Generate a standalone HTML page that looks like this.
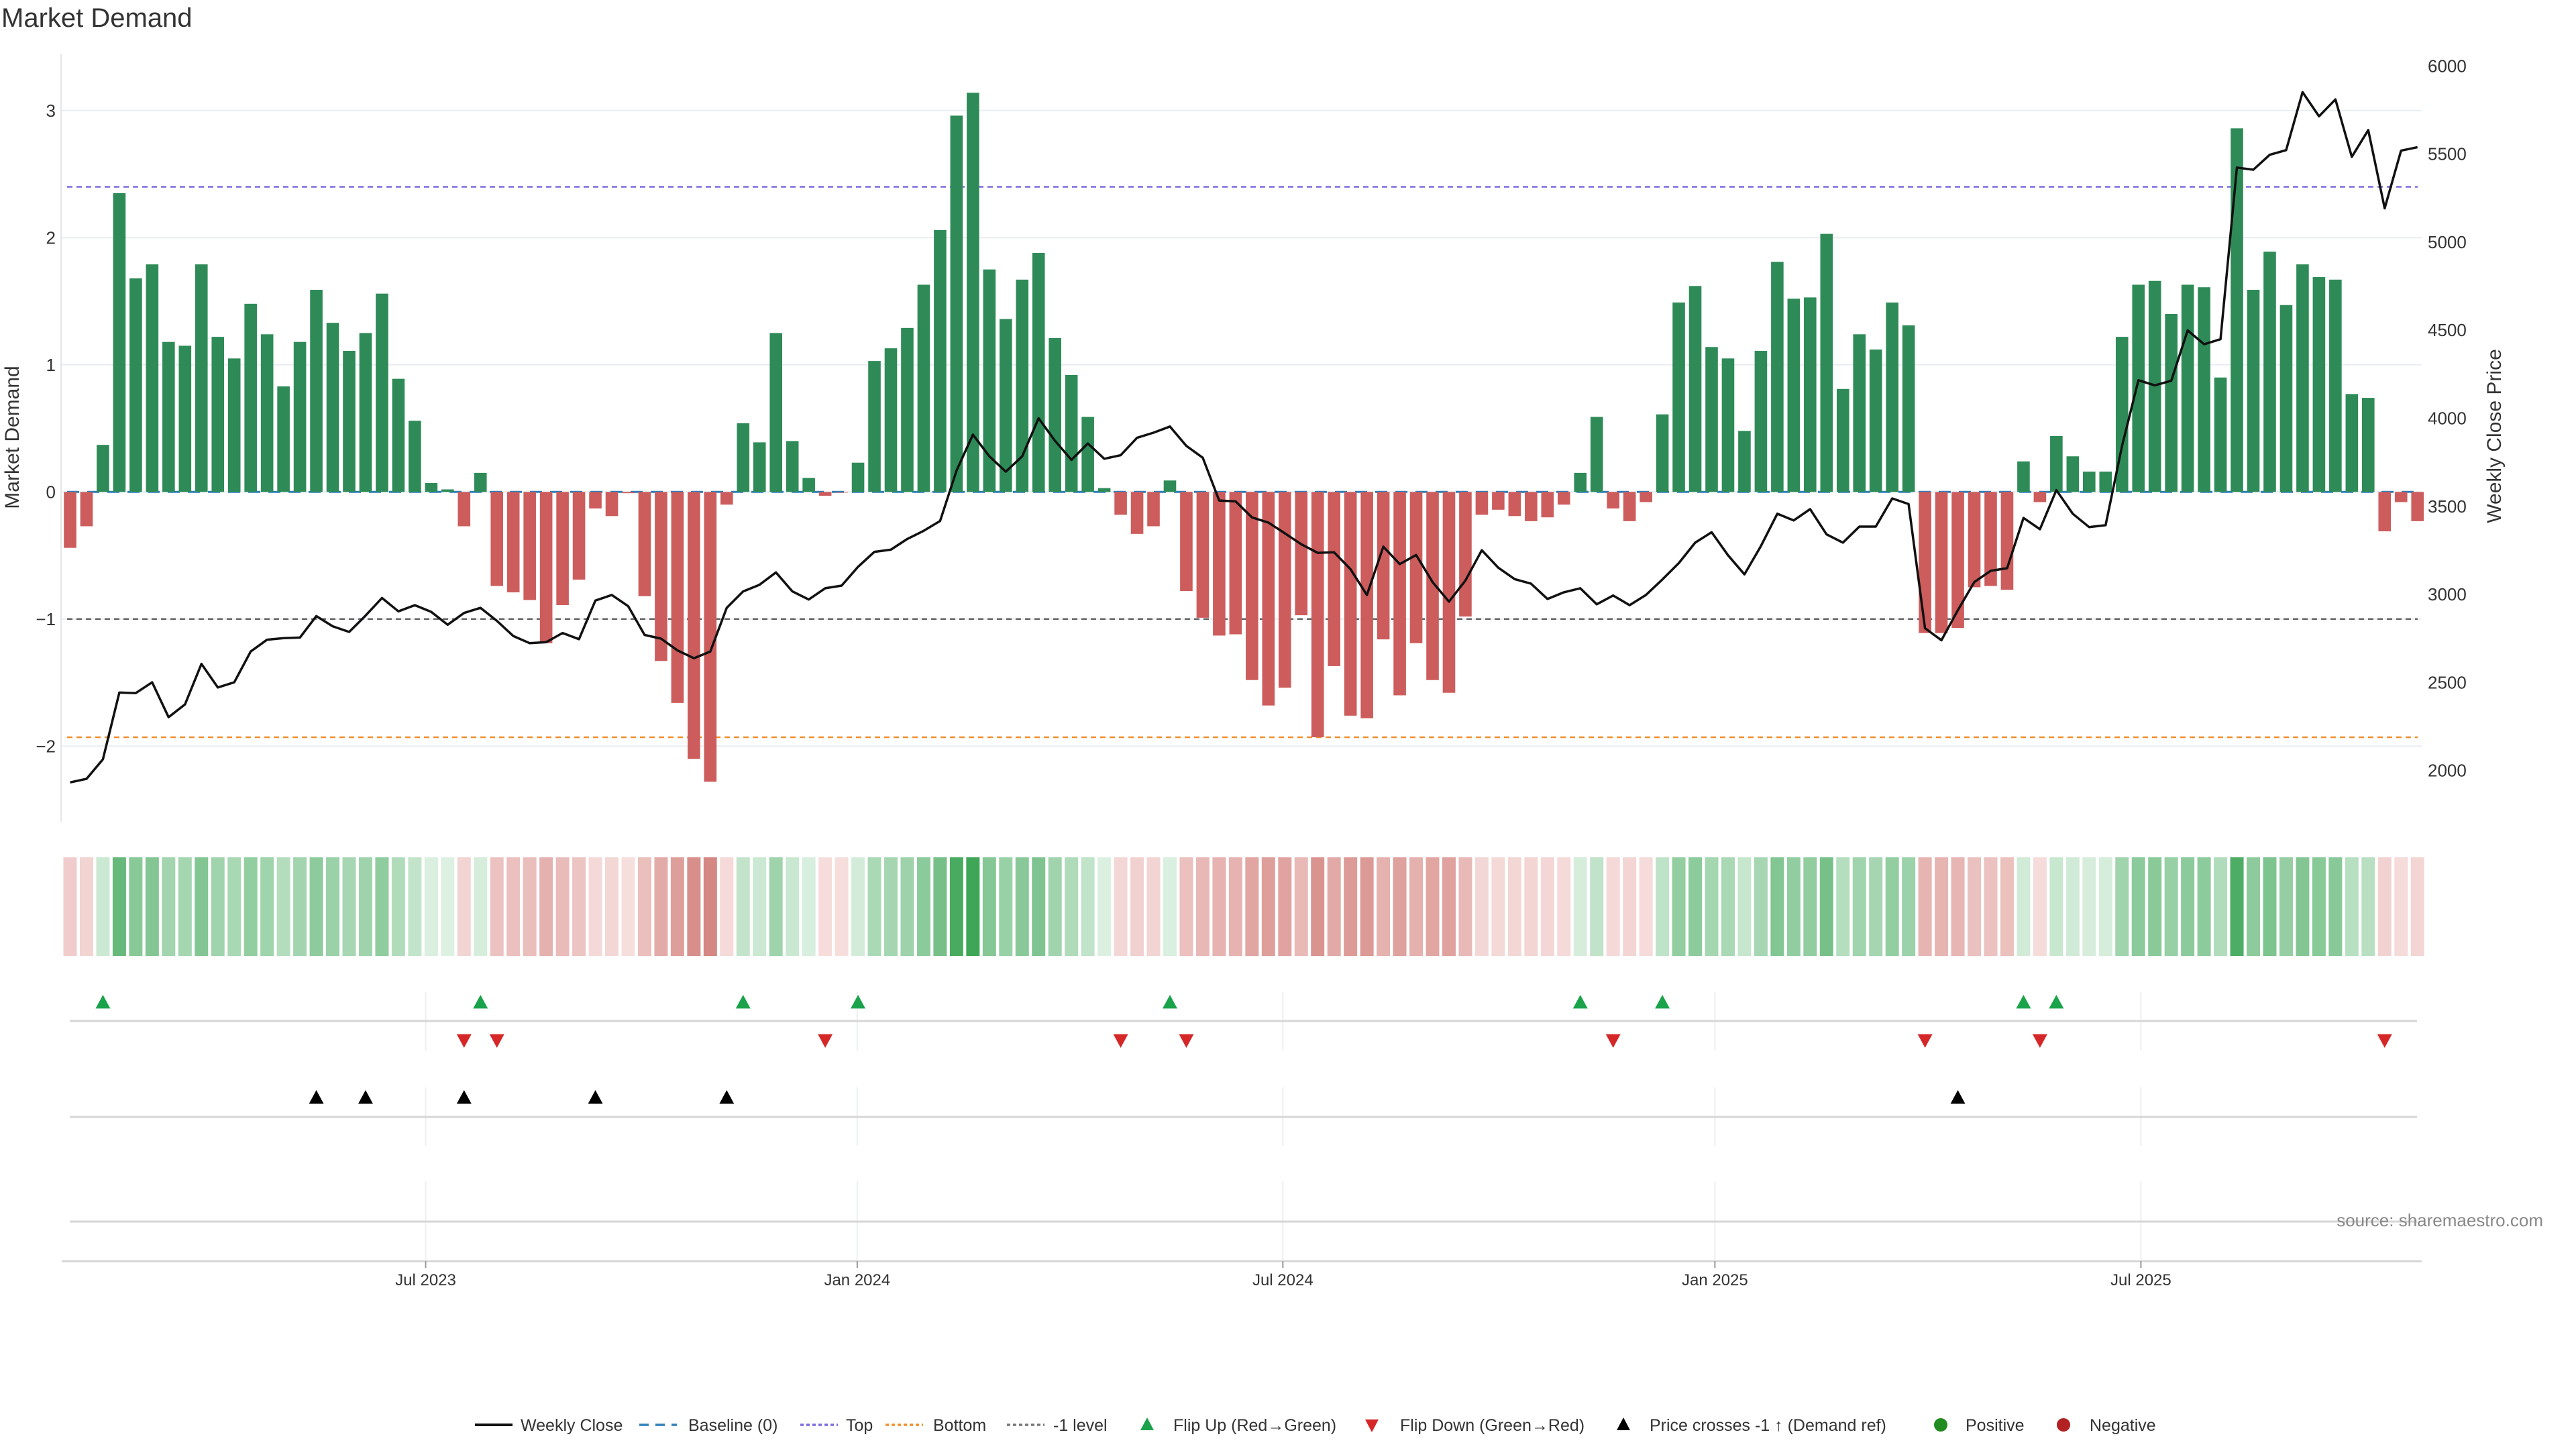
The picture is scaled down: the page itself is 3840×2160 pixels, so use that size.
<!DOCTYPE html>
<html><head><meta charset="utf-8"><title>Market Demand</title>
<style>
html,body{margin:0;padding:0;background:#fff;}
svg{display:block;font-family:"Liberation Sans","DejaVu Sans",sans-serif;}
</style></head>
<body>
<svg id="chart" xmlns="http://www.w3.org/2000/svg" width="3840" height="2160" viewBox="0 0 3840 2160">
<rect x="0" y="0" width="3840" height="2160" fill="#ffffff"/>
<text x="2" y="40" font-size="40" fill="#333">Market Demand</text>
<g id="grid"></g>
<g id="refs"></g>
<g id="bars"></g>
<g id="price"></g>
<g id="axes"></g>
<g id="heat"></g>
<g id="markers"></g>
<g id="xaxis"></g>
<text x="28" y="652" font-size="30" fill="#333" text-anchor="middle" transform="rotate(-90 28 652)">Market Demand</text>
<text x="3728" y="650" font-size="30" fill="#333" text-anchor="middle" transform="rotate(-90 3728 650)">Weekly Close Price</text>
<text x="3791" y="1828" font-size="26" fill="#888" text-anchor="end">source: sharemaestro.com</text>
<g id="legend"></g>
</svg>
<script>
const demand = [-0.44,-0.27,0.37,2.35,1.68,1.79,1.18,1.15,1.79,1.22,1.05,1.48,1.24,0.83,1.18,1.59,1.33,1.11,1.25,1.56,0.89,0.56,0.07,0.02,-0.27,0.15,-0.74,-0.79,-0.85,-1.19,-0.89,-0.69,-0.13,-0.19,-0.01,-0.82,-1.33,-1.66,-2.10,-2.28,-0.10,0.54,0.39,1.25,0.40,0.11,-0.03,-0.005,0.23,1.03,1.13,1.29,1.63,2.06,2.96,3.14,1.75,1.36,1.67,1.88,1.21,0.92,0.59,0.03,-0.18,-0.33,-0.27,0.09,-0.78,-0.99,-1.13,-1.12,-1.48,-1.68,-1.54,-0.97,-1.93,-1.37,-1.76,-1.78,-1.16,-1.60,-1.19,-1.48,-1.58,-0.98,-0.18,-0.14,-0.19,-0.23,-0.20,-0.10,0.15,0.59,-0.13,-0.23,-0.08,0.61,1.49,1.62,1.14,1.05,0.48,1.11,1.81,1.52,1.53,2.03,0.81,1.24,1.12,1.49,1.31,-1.11,-1.11,-1.07,-0.75,-0.74,-0.77,0.24,-0.08,0.44,0.28,0.16,0.16,1.22,1.63,1.66,1.40,1.63,1.61,0.90,2.86,1.59,1.89,1.47,1.79,1.69,1.67,0.77,0.74,-0.31,-0.08,-0.23];
const closes = [1933,1953,2064,2443,2440,2501,2303,2376,2606,2472,2501,2676,2743,2752,2755,2877,2819,2787,2880,2980,2904,2939,2901,2828,2895,2924,2850,2764,2723,2729,2781,2746,2965,2997,2933,2770,2749,2682,2638,2676,2924,3017,3055,3125,3017,2971,3035,3050,3157,3242,3254,3315,3361,3417,3703,3907,3784,3697,3784,4000,3872,3764,3857,3770,3790,3889,3918,3953,3843,3776,3533,3528,3437,3408,3347,3285,3236,3239,3143,2997,3271,3172,3224,3070,2959,3079,3251,3152,3087,3061,2974,3012,3035,2944,2994,2939,2997,3085,3178,3294,3353,3222,3114,3274,3458,3420,3484,3341,3294,3385,3385,3545,3513,2808,2740,2910,3070,3134,3149,3434,3370,3592,3458,3382,3393,3843,4216,4187,4213,4499,4420,4449,5423,5411,5496,5522,5851,5714,5810,5484,5636,5192,5519,5539];
const leftTicks = [-2,-1,0,1,2,3];
const rightTicks = [2000,2500,3000,3500,4000,4500,5000,5500,6000];
const xTickLabels = ["Jul 2023","Jan 2024","Jul 2024","Jan 2025","Jul 2025"];
const xTickIndex = [21.66,47.95,73.88,100.2,126.15];
const refLevels = [0,2.4,-1,-1.93];

const NS = "http://www.w3.org/2000/svg";
function el(tag, attrs, parent){const e=document.createElementNS(NS,tag);for(const k in attrs)e.setAttribute(k,attrs[k]);parent.appendChild(e);return e;}
const xi = i => 104.5 + i*24.47;
const yD = v => 733.3 - v*189.5;
const yP = p => 98.3 + (6000-p)*0.2626;
const X0 = 91, X1 = 3610;

const grid = document.getElementById('grid');
const axes = document.getElementById('axes');
leftTicks.forEach(t=>{
  const g = el('line',{x1:X0,x2:X1,y1:yD(t),y2:yD(t),stroke:'#e9edf3','stroke-width':2},grid);
  
  
  const tx = el('text',{x:83,y:yD(t)+9,'font-size':26,fill:'#333','text-anchor':'end'},axes);
  tx.textContent = t<0 ? '\u2212'+Math.abs(t) : String(t);
  
  
});
rightTicks.forEach(t=>{
  const tx = el('text',{x:3619,y:yP(t)+9,'font-size':26,fill:'#333'},axes);
  tx.textContent = String(t);
  
  
});
const ax = el('line',{x1:X0,x2:X0,y1:80,y2:1225,stroke:'#e3e6ea','stroke-width':2},axes);



const refs = document.getElementById('refs');
const refStyles = [
  {c:'#2f7fb8',d:'18 12',w:3,n:'baseline-line'},
  {c:'#7b6be0',d:'8 6',w:2.5,n:'top-line'},
  {c:'#666',d:'8 6',w:2.5,n:'minus-one-level-line'},
  {c:'#f28e2b',d:'8 6',w:2.5,n:'bottom-line'}];
const bars = document.getElementById('bars');
refLevels.forEach((v,k)=>{
  const s = refStyles[k];
  const l = el('line',{x1:100,x2:3604,y1:yD(v),y2:yD(v),stroke:s.c,'stroke-width':s.w,'stroke-dasharray':s.d},refs);
  
  
});

demand.forEach((v,i)=>{
  const y = v>=0 ? yD(v) : yD(0);
  const h = Math.abs(yD(v)-yD(0));
  const r = el('rect',{x:xi(i)-9.3,y:y,width:18.6,height:Math.max(h,0.5),fill:v>=0?'#2e8b57':'#cd5c5c'},bars);
  
  
});

const pl = el('polyline',{points:closes.map((p,i)=>xi(i).toFixed(1)+','+yP(p).toFixed(1)).join(' '),fill:'none',stroke:'#111','stroke-width':3.5,'stroke-linejoin':'round'},document.getElementById('price'));



const heat = document.getElementById('heat');
function mix(a,b,t){return 'rgb('+a.map((x,k)=>Math.round(x+(b[k]-x)*t)).join(',')+')';}
demand.forEach((v,i)=>{
  const t = Math.min(1,Math.abs(v)/3.2);
  const c = v>=0 ? mix([222,241,227],[60,165,85],t) : mix([246,222,221],[200,100,94],t);
  const r = el('rect',{x:xi(i)-10,y:1278,width:20,height:147,fill:c},heat);
  
  
});

const mk = document.getElementById('markers');
const xax = document.getElementById('xaxis');
[[1479,1566],[1621,1708],[1761,1880]].forEach(([a,b])=>{
  xTickIndex.forEach(ti=>{
    const l = el('line',{x1:xi(ti),x2:xi(ti),y1:a,y2:b,stroke:'#eceff3','stroke-width':2},mk);
    
    
  });
});
[1522,1665,1821].forEach(y=>{
  const l = el('line',{x1:104,x2:3603,y1:y,y2:y,stroke:'#d6d6d6','stroke-width':3},mk);
  
  
});
function tri(x,y,up,color,name){
  const s=11;
  const pts = up ? [[x,y-s],[x-s,y+s*0.85],[x+s,y+s*0.85]] : [[x,y+s],[x-s,y-s*0.85],[x+s,y-s*0.85]];
  const p = el('polygon',{points:pts.map(q=>q.join(',')).join(' '),fill:color},mk);
  
  
}
const L = 2862;
for(let i=1;i<demand.length;i++){
  if(demand[i-1]<0 && demand[i]>=0) tri(xi(i),1494,true,'#1aa34a','flip-up-marker');
  if(demand[i-1]>=0 && demand[i]<0) tri(xi(i),1551,false,'#d62728','flip-down-marker');
  if(closes[i-1]<L && closes[i]>=L) tri(xi(i),1636,true,'#000','price-cross-marker');
}

const xl = el('line',{x1:92,x2:3610,y1:1880,y2:1880,stroke:'#d6d6d6','stroke-width':3},xax);


xTickLabels.forEach((lab,k)=>{
  const x = xi(xTickIndex[k]);
  const tk = el('line',{x1:x,x2:x,y1:1880,y2:1890,stroke:'#999','stroke-width':2},xax);
  
  
  const t = el('text',{x:x,y:1916,'font-size':24,fill:'#333','text-anchor':'middle'},xax);
  t.textContent = lab;
  
  
});

const lg = document.getElementById('legend');
const legendItems = [
  {t:'Weekly Close',k:'line',c:'#111',d:'',sx:708,tx:776},
  {t:'Baseline (0)',k:'line',c:'#2f7fb8',d:'14 10',sx:953,tx:1026},
  {t:'Top',k:'line',c:'#7b6be0',d:'5 4',sx:1193,tx:1261},
  {t:'Bottom',k:'line',c:'#f28e2b',d:'5 4',sx:1320,tx:1391},
  {t:'-1 level',k:'line',c:'#777',d:'5 4',sx:1501,tx:1570},
  {t:'Flip Up (Red\u2192Green)',k:'up',c:'#1aa34a',sx:1710,tx:1749},
  {t:'Flip Down (Green\u2192Red)',k:'down',c:'#d62728',sx:2045,tx:2087},
  {t:'Price crosses -1 \u2191 (Demand ref)',k:'up',c:'#000',sx:2420,tx:2459},
  {t:'Positive',k:'dot',c:'#228b22',sx:2893,tx:2930},
  {t:'Negative',k:'dot',c:'#b22222',sx:3076,tx:3115}];
const LY = 2124;
legendItems.forEach(it=>{
  const g = el('g',{},lg);
  
  
  if(it.k==='line'){
    const a={x1:it.sx,x2:it.sx+56,y1:LY,y2:LY,stroke:it.c,'stroke-width':it.d?3.5:4};
    if(it.d)a['stroke-dasharray']=it.d;
    el('line',a,g);
  } else if(it.k==='up'){
    el('polygon',{points:`${it.sx},${LY-11} ${it.sx-10},${LY+8} ${it.sx+10},${LY+8}`,fill:it.c},g);
  } else if(it.k==='down'){
    el('polygon',{points:`${it.sx},${LY+11} ${it.sx-10},${LY-8} ${it.sx+10},${LY-8}`,fill:it.c},g);
  } else {
    el('circle',{cx:it.sx,cy:LY,r:10,fill:it.c},g);
  }
  const t = el('text',{x:it.tx,y:LY+9,'font-size':25,fill:'#333'},g);
  t.textContent = it.t;
});
</script>
</body></html>
